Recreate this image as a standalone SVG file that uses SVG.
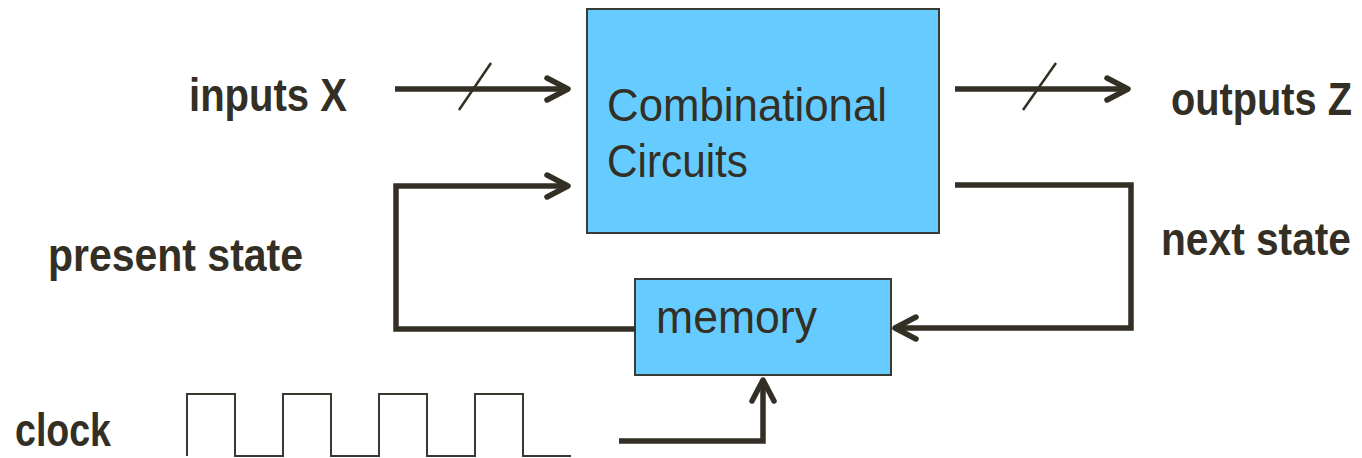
<svg xmlns="http://www.w3.org/2000/svg" width="1362" height="458" viewBox="0 0 1362 458">
  <style>
    .box { fill: #66CCFF; stroke: #3a3a36; stroke-width: 2; }
    .lbl { font-family: "Liberation Sans", Arial, sans-serif; font-weight: bold; font-size: 47px; fill: #332F25; }
    .inner { font-family: "Liberation Sans", Arial, sans-serif; font-size: 47px; fill: #332F25; }
    .wire { fill: none; stroke: #332F25; stroke-width: 5.5; stroke-linejoin: miter; }
    .slash { stroke: #332F25; stroke-width: 2.5; }
    .wave { fill: none; stroke: #3a3830; stroke-width: 2; }
  </style>
  <defs>
    <marker id="arr" markerUnits="userSpaceOnUse" markerWidth="40" markerHeight="40" refX="0" refY="0" viewBox="-30 -20 40 40" orient="auto" overflow="visible">
      <path d="M-21,-11 L0,0 L-21,11" fill="none" stroke="#332F25" stroke-width="5.5" stroke-linecap="round" stroke-linejoin="round"/>
    </marker>
  </defs>
  <rect width="1362" height="458" fill="#ffffff"/>

  <g id="comb">
    <rect class="box" x="587" y="9" width="352" height="224"/>
    <text class="inner" x="607" y="121" textLength="280" lengthAdjust="spacingAndGlyphs">Combinational</text>
    <text class="inner" x="607" y="177" textLength="141" lengthAdjust="spacingAndGlyphs">Circuits</text>
  </g>

  <g id="memory">
    <rect class="box" x="635" y="279" width="256" height="96"/>
    <text class="inner" x="656" y="333" font-size="44" textLength="161" lengthAdjust="spacingAndGlyphs">memory</text>
  </g>

  <g id="labels">
    <text class="lbl" x="189" y="111" textLength="158" lengthAdjust="spacingAndGlyphs">inputs X</text>
    <text class="lbl" x="1171" y="115" font-size="42" textLength="181" lengthAdjust="spacingAndGlyphs">outputs Z</text>
    <text class="lbl" x="1161" y="255" font-size="42" textLength="190" lengthAdjust="spacingAndGlyphs">next state</text>
    <text class="lbl" x="48" y="271" textLength="255" lengthAdjust="spacingAndGlyphs">present state</text>
    <text class="lbl" x="15" y="446" textLength="96" lengthAdjust="spacingAndGlyphs">clock</text>
  </g>

  <g id="clock-wave">
    <polyline class="wave" points="187,456 187,394 235,394 235,456 283,456 283,394 331,394 331,456 379,456 379,394 427,394 427,456 475,456 475,394 523,394 523,456 571,456"/>
  </g>

  <g id="connectors">
    <path class="wire" d="M395,89 H568" marker-end="url(#arr)"/>
    <line class="slash" x1="459" y1="110" x2="491" y2="63"/>
    <path class="wire" d="M955,89 H1128" marker-end="url(#arr)"/>
    <line class="slash" x1="1023" y1="110" x2="1056" y2="63"/>
    <path class="wire" d="M635,329 H396 V186 H568" marker-end="url(#arr)"/>
    <path class="wire" d="M955,185 H1131 V328 H895" marker-end="url(#arr)"/>
    <path class="wire" d="M619,441 H763 V380" marker-end="url(#arr)"/>
  </g>
</svg>
